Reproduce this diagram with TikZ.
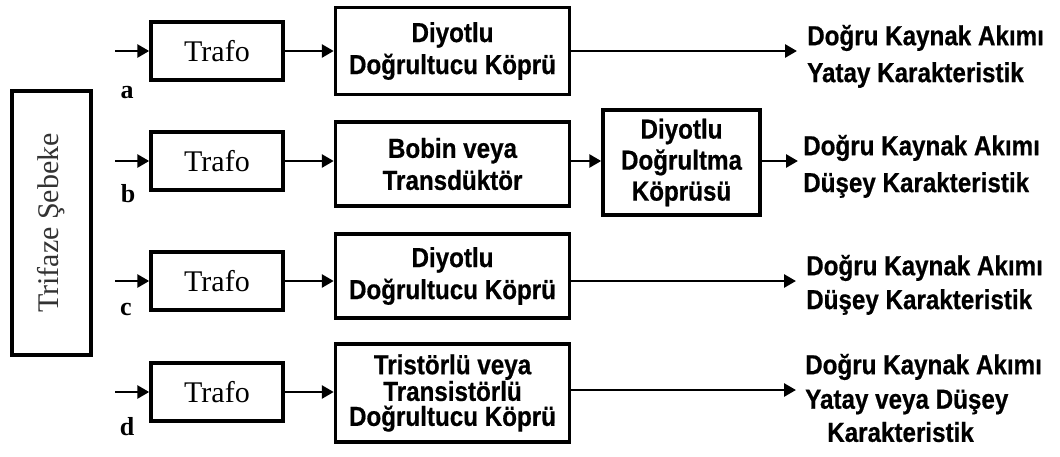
\documentclass[tikz,border=0pt]{standalone}
\usepackage{fontspec}
\setmainfont{Liberation Serif}
\newfontfamily\bsans[FakeStretch=0.88,FakeBold=0.6]{Liberation Sans}
\usetikzlibrary{arrows.meta}
\tikzset{
  box/.style={draw, line width=3.5pt, inner sep=0pt, align=center},
  trafo/.style={box, minimum width=132pt, minimum height=58pt, font=\fontsize{30}{34}\selectfont},
  midbox/.style={box, minimum width=234pt, font=\bsans\bfseries\fontsize{27.5}{32}\selectfont},
  conn/.style={line width=2.8pt, -{Triangle[length=12pt,width=13pt]}},
  outtext/.style={anchor=west, inner sep=0pt, font=\bsans\bfseries\fontsize{27.5}{30}\selectfont},
  lbl/.style={inner sep=0pt, font=\bfseries\fontsize{26}{30}\selectfont}
}
\begin{document}
\begin{tikzpicture}[x=1pt,y=-1pt]
\useasboundingbox (0,0) rectangle (1060,456);
% source
\node[box, minimum width=79pt, minimum height=264pt] (src) at (51.5,223) {};
\node[rotate=90, inner sep=0pt, text=black!80, font=\fontsize{30}{34}\selectfont] (srct) at (src.center) {Trifaze Şebeke};
% Trafo boxes
\node[trafo] (ta) at (217,51) {Trafo};
\node[trafo] (tb) at (217,161) {Trafo};
\node[trafo] (tc) at (217,281) {Trafo};
\node[trafo] (td) at (217,392) {Trafo};
% inputs
\coordinate (ia) at (115,51);
\coordinate (ib) at (115,161);
\coordinate (ic) at (115,281);
\coordinate (id) at (115,392);
\draw[conn] (ia) -- (ta.west);
\draw[conn] (ib) -- (tb.west);
\draw[conn] (ic) -- (tc.west);
\draw[conn] (id) -- (td.west);
% labels
\node[lbl] (la) at (127,93) {a};
\node[lbl] (lb) at (128,194) {b};
\node[lbl] (lc) at (126,309) {c};
\node[lbl] (ld) at (127,427) {d};
% middle boxes
\node[midbox, minimum height=87pt] (ma) at (452.5,51) {Diyotlu\\Doğrultucu Köprü};
\node[midbox, minimum height=84pt] (mb) at (452.5,164) {Bobin veya\\Transdüktör};
\node[box, minimum width=157pt, minimum height=105pt, font=\bsans\bfseries\fontsize{27.5}{31}\selectfont] (mb2) at (681.5,162.5) {Diyotlu\\Doğrultma\\Köprüsü};
\node[midbox, minimum height=84pt] (mc) at (452.5,276) {Diyotlu\\Doğrultucu Köprü};
\node[midbox, minimum height=98pt, font=\bsans\bfseries\fontsize{27.5}{25}\selectfont] (md) at (452.5,393) {Tristörlü veya\\Transistörlü\\Doğrultucu Köprü};
% trafo -> middle
\draw[conn] (ta.east) -- (ta.east -| ma.west);
\draw[conn] (tb.east) -- (tb.east -| mb.west);
\draw[conn] (tc.east) -- (tc.east -| mc.west);
\draw[conn] (td.east) -- (td.east -| md.west);
\draw[conn] (tb.east -| mb.east) -- (tb.east -| mb2.west);
% outputs
\coordinate (oa) at (797,51);
\coordinate (ob) at (798,161);
\coordinate (oc) at (796,281);
\coordinate (od) at (796,390);
\draw[conn] (oa -| ma.east) -- (oa);
\draw[conn] (ob -| mb2.east) -- (ob);
\draw[conn] (oc -| mc.east) -- (oc);
\draw[conn] (od -| md.east) -- (od);
% output texts
\node[outtext] (a1) at (807,38) {Doğru Kaynak Akımı};
\node[outtext] (a2) at (807,75) {Yatay Karakteristik};
\node[outtext] (b1) at (803,148) {Doğru Kaynak Akımı};
\node[outtext] (b2) at (803,185) {Düşey Karakteristik};
\node[outtext] (c1) at (806,268) {Doğru Kaynak Akımı};
\node[outtext] (c2) at (806,302) {Düşey Karakteristik};
\node[outtext] (d1) at (805,367) {Doğru Kaynak Akımı};
\node[outtext] (d2) at (805,402) {Yatay veya Düşey};
\node[outtext] (d3) at (827,432) {Karakteristik};
\end{tikzpicture}
\end{document}
